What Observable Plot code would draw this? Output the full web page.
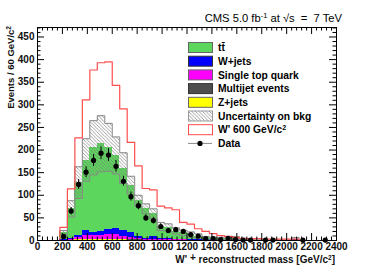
<!DOCTYPE html>
<html><head><meta charset="utf-8">
<script src="https://cdn.jsdelivr.net/npm/d3@7"></script>
<script src="https://cdn.jsdelivr.net/npm/@observablehq/plot@0.6"></script>
<style>body{margin:0;background:#fff;} svg{display:block}</style>
</head><body><div id="chart"></div>
<script>
// ---- data ----
const binLo = [180,240,300,360,420,480,540,600,660,720,780,840,900,960,1020,1080,1140,1200,1260,1320,1380,1440,1500,1560,1620,1680,1740,1800,1860,1920,1980,2040,2100,2160,2220,2280,2340];
const binWidth = 60;
const zjets     = [0.3,0.5,1.5,2,2,2,2,2,1.5,1, 1,0.5,0.5,0.3,0.3,0.2,0.2,0.2,0.1,0.1, 0.1,0.1,0,0,0,0,0,0,0,0, 0,0,0,0,0,0,0];
const multijet  = [0.2,0.5,0.5,1,1,1,1,1,0.5,0.5, 0.5,0.5,0.5,0.3,0.3,0.2,0.2,0.2,0.2,0.1, 0.1,0.1,0.1,0.1,0.1,0,0,0,0,0, 0,0,0,0,0,0,0];
const singleTop = [0.5,2,5,9,7,8,10,10,7,4.5, 2.5,2,2,1.4,1.2,1,0.8,0.6,0.5,0.4, 0.3,0.3,0.2,0.2,0.1,0.1,0.1,0,0,0, 0,0,0,0,0,0,0];
const wjets     = [1,2,5,10,7,10,12,13,13,11, 4,2,6,3,3,1.5,1.5,1,2,1, 1,0.5,0.5,1.5,0.5,0.3,0.3,0.3,0.2,0.2, 0.2,1.5,0,0,0,0,0];
const ttbar     = [15,65,116,156,188,193,181,162,138,105, 80,65,50,26,24,18,14,11,7,4.4, 3.5,3,3.2,4.2,1.3,0.6,0.4,0.2,0.2,0.1, 0.1,0,0,0,0,0,0];
const bkgUnc    = [5,18,35,47,60,62,53,41,34,20, 12,11,11,9,8,7,6,6,5,3, 2.5,2,2,3,1.5,1,0.5,0.5,0.5,0.5, 0.5,5,0,0,0,0,0];
const signalWp  = [29,114,227,311,377,393,395,343,291,217, 165,115,112,76,72,68,40,36,26,20, 15,11,9,7,5,4,4,3,3,3, 3,3,0,0,0,0,0];
const dataX   = [210,270,330,390,450,510,570,630,690,750,810,870,930,990,1050,1110,1170,1230,1290,1350,1410,1470,1530,1590,1650,1710,1830,1890,2130,2310];
const dataN   = [9,65,124,151,177,193,189,164,131,97,77,50,44,31,22,24,20,13,10,4,4,2,5,2,1,1,1,1,1,1];
const dataErr = [3,8,11,12,13,14,14,13,11,10,9,7,7,6,5,5,4.5,3.6,3.2,2,2,1.4,2.2,1.4,1,1,1,1,1,1];
const xTicks = [0,200,400,600,800,1000,1200,1400,1600,1800,2000,2200,2400];
const yTicks = [0,50,100,150,200,250,300,350,400,450];
const procs = ["Z+jets","Multijet events","Single top quark","W+jets","tt\u0304"];
const procColors = ["#ffff00","#4d4d4d","#ff00ff","#0000ff","#5cd65c"];
const legendLabels = ["tt\u0304","W+jets","Single top quark","Multijet events","Z+jets","Uncertainty on bkg","W' 600 GeV/c","Data"];

// ---- derived tables ----
const procValues = [zjets, multijet, singleTop, wjets, ttbar];
const stackRows = procs.flatMap((p, k) => binLo.map((lo, i) => ({proc: p, x1: lo, x2: lo + binWidth, y: procValues[k][i]})));
const totals = binLo.map((_, i) => procValues.reduce((s, a) => s + a[i], 0));
const lower = totals.map((t, i) => Math.max(0, t - bkgUnc[i]));
const upper = totals.map((t, i) => t + bkgUnc[i]);
const bandRows = binLo.map((lo, i) => ({x1: lo, x2: lo + binWidth, y1: lower[i], y2: upper[i]}));
const lastHi = binLo[binLo.length - 1] + binWidth;
function stepPts(vals, start) {
  const pts = [{x: binLo[0], y: start}];
  binLo.forEach((lo, i) => pts.push({x: lo, y: vals[i]}));
  pts.push({x: lastHi, y: vals[vals.length - 1]});
  pts.push({x: lastHi, y: 0});
  return pts;
}
const dataRows = dataX.map((x, i) => ({x, n: dataN[i], e: dataErr[i]}));
const xMinor = d3.range(0, 2401, 40).filter(v => v % 200 !== 0);
const yMinor = d3.range(0, 471, 10).filter(v => v % 50 !== 0);

const W = 374, H = 268, mL = 37, mR = 38, mT = 27, mB = 28;
const iW = W - mL - mR, iH = H - mT - mB;

const plot = Plot.plot({
  width: W, height: H,
  marginLeft: mL, marginRight: mR, marginTop: mT, marginBottom: mB,
  style: {fontFamily: "'Liberation Sans', Arial, sans-serif", fontSize: "10px", background: "#fff", color: "#000", overflow: "visible"},
  x: {domain: [0, 2400]},
  y: {domain: [0, 471]},
  color: {domain: procs, range: procColors},
  marks: [
    Plot.rectY(stackRows, {x1: "x1", x2: "x2", y: "y", fill: "proc", shapeRendering: "crispEdges"}),
    Plot.rectY(bandRows, {x1: "x1", x2: "x2", y1: "y1", y2: "y2", fill: "url(#hatch)"}),
    Plot.line(stepPts(upper, lower[0]), {x: "x", y: "y", curve: "step-after", stroke: "#888", strokeWidth: 1}),
    Plot.line(stepPts(lower, lower[0]), {x: "x", y: "y", curve: "step-after", stroke: "#888", strokeWidth: 1}),
    Plot.line(stepPts(signalWp, 0), {x: "x", y: "y", curve: "step-after", stroke: "#ff4d4d", strokeWidth: 1.2}),
    Plot.ruleX(dataRows, {x: "x", y1: d => d.n - d.e, y2: d => d.n + d.e, stroke: "#000", strokeWidth: 1}),
    Plot.dot(dataRows, {x: "x", y: "n", r: 2.6, fill: "#000", stroke: "none"}),
    // inward ticks
    Plot.tickY(yTicks, {y: d => d, insetRight: iW - 7, stroke: "#000"}),
    Plot.tickY(yMinor, {y: d => d, insetRight: iW - 3.5, stroke: "#000"}),
    Plot.tickY(yTicks, {y: d => d, insetLeft: iW - 7, stroke: "#000"}),
    Plot.tickY(yMinor, {y: d => d, insetLeft: iW - 3.5, stroke: "#000"}),
    Plot.tickX(xTicks, {x: d => d, insetTop: iH - 7, stroke: "#000"}),
    Plot.tickX(xMinor, {x: d => d, insetTop: iH - 3.5, stroke: "#000"}),
    Plot.tickX(xTicks, {x: d => d, insetBottom: iH - 7, stroke: "#000"}),
    Plot.tickX(xMinor, {x: d => d, insetBottom: iH - 3.5, stroke: "#000"}),
    Plot.axisX(xTicks, {tickSize: 0, tickPadding: 2, tickFormat: d => String(d), label: null, fontWeight: "bold", fill: "#111"}),
    Plot.axisY(yTicks, {tickSize: 0, tickPadding: 3, tickFormat: d => String(d), label: null, fontWeight: "bold", fill: "#111"}),
    Plot.frame({stroke: "#000", strokeWidth: 1})
  ]
});

const svg = d3.select(plot);
const defs = svg.insert("defs", ":first-child");
defs.append("pattern").attr("id", "hatch").attr("patternUnits", "userSpaceOnUse")
  .attr("width", 3.5).attr("height", 3.5)
  .append("path").attr("d", "M0,0L3.5,3.5M2.5,-1L4.5,1M-1,2.5L1,4.5")
  .attr("stroke", "#777").attr("stroke-width", 0.7).attr("fill", "none");

// legend
const legendStyles = [
  {fill: "#5cd65c", stroke: "#666"},
  {fill: "#0000ff", stroke: "#333"},
  {fill: "#ff00ff", stroke: "#666"},
  {fill: "#4d4d4d", stroke: "#333"},
  {fill: "#ffff00", stroke: "#666"},
  {fill: "url(#hatch)", stroke: "#999"},
  {fill: "#fff", stroke: "#ff4d4d"},
  {data: true}
];
const lg = svg.append("g").attr("font-family", "'Liberation Sans', Arial, sans-serif").attr("font-size", 10.3)
  .attr("font-weight", "bold").attr("text-anchor", "start");
legendLabels.forEach((lab, i) => {
  const cy = 47.5 + i * 13.7;
  const st = legendStyles[i];
  if (st.data) {
    lg.append("line").attr("x1", 188).attr("x2", 212).attr("y1", cy).attr("y2", cy).attr("stroke", "#888").attr("stroke-width", 1);
    lg.append("circle").attr("cx", 200).attr("cy", cy).attr("r", 2.6).attr("fill", "#000");
  } else {
    lg.append("rect").attr("x", 188.5).attr("y", cy - 5).attr("width", 24).attr("height", 10)
      .attr("fill", st.fill).attr("stroke", st.stroke).attr("stroke-width", 1);
  }
  const t = lg.append("text").attr("x", 218).attr("y", cy).attr("dy", "0.36em").attr("fill", "#000").attr("text-anchor", "start");
  t.append("tspan").text(lab);
  if (i === 6) t.append("tspan").attr("dy", "-0.45em").attr("font-size", 7).text("2");
});

// title
const tt = svg.append("text").attr("x", 342).attr("y", 22).attr("text-anchor", "end")
  .attr("font-family", "'Liberation Sans', Arial, sans-serif").attr("font-size", 11.2).attr("fill", "#000")
  .style("white-space", "pre");
tt.append("tspan").text("CMS 5.0 fb");
tt.append("tspan").attr("dy", -4).attr("font-size", 7.5).text("-1");
tt.append("tspan").attr("dy", 4).text(" at \u221As  =  7 TeV");

// y title
const yt = svg.append("text").attr("transform", "translate(14,26) rotate(-90)").attr("text-anchor", "end")
  .attr("font-family", "'Liberation Sans', Arial, sans-serif").attr("font-size", 9.5).attr("font-weight", "bold").attr("fill", "#111");
yt.append("tspan").text("Events / 60 GeV/c");
yt.append("tspan").attr("dy", -3.5).attr("font-size", 6.5).text("2");

// x title
const xt = svg.append("text").attr("x", 335).attr("y", 263).attr("text-anchor", "end")
  .attr("font-family", "'Liberation Sans', Arial, sans-serif").attr("font-size", 10).attr("font-weight", "bold").attr("fill", "#111")
  .style("white-space", "pre");
xt.append("tspan").text("W' ");
xt.append("tspan").attr("dy", -2.5).text("+");
xt.append("tspan").attr("dy", 2.5).text(" reconstructed mass [GeV/c");
xt.append("tspan").attr("dy", -3.5).attr("font-size", 6.5).text("2");
xt.append("tspan").attr("dy", 3.5).text("]");

document.getElementById("chart").appendChild(plot);
</script>
</body></html>
